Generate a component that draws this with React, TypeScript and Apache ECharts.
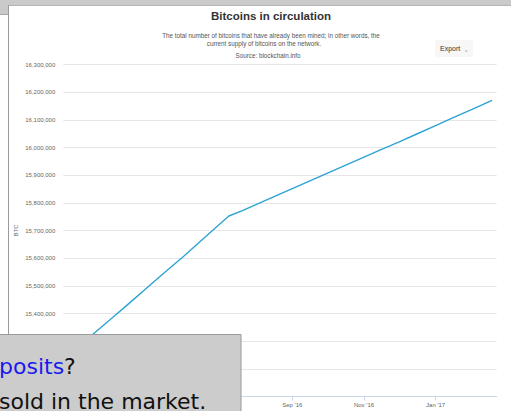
import React, { useEffect, useRef } from "react";
import * as echarts from "echarts";

// Data (daily supply snapshots)
const dates = [
  "2016-02-19", "2016-03-01", "2016-03-15", "2016-04-01", "2016-04-15",
  "2016-05-01", "2016-05-15", "2016-06-01", "2016-06-15", "2016-07-01",
  "2016-07-09", "2016-07-20", "2016-08-01", "2016-08-15", "2016-09-01",
  "2016-09-15", "2016-10-01", "2016-11-01", "2016-11-15", "2016-12-01",
  "2016-12-15", "2017-01-01", "2017-01-15", "2017-02-01", "2017-02-18",
];
const btcInCirculation = [
  15230000, 15271500, 15324200, 15385700, 15436600,
  15495900, 15547600, 15609000, 15661800, 15722300,
  15752500, 15770900, 15793300, 15819700, 15851200,
  15877200, 15907200, 15965300, 15991400, 16020300,
  16047000, 16079200, 16106000, 16138000, 16170600,
];
const tickDates = ["2016-03-01", "2016-05-01", "2016-07-01", "2016-09-01", "2016-11-01", "2017-01-01"];
const tickLabels = ["Mar '16", "May '16", "Jul '16", "Sep '16", "Nov '16", "Jan '17"];
const xMinDate = "2016-02-19";
const xMaxDate = "2017-02-22";
const yMin = 15100000;
const yMax = 16300000;
const yStep = 100000;

const titleText = "Bitcoins in circulation";
const subtitleLines = [
  "The total number of bitcoins that have already been mined; in other words, the",
  "current supply of bitcoins on the network.",
];
const sourceText = "Source: blockchain.info";

const ts = (d: string) => Date.parse(d + "T00:00:00Z");

export default function App() {
  const ref = useRef<HTMLDivElement>(null);
  useEffect(() => {
    if (!ref.current) return;
    const chart = echarts.init(ref.current, undefined, { renderer: "svg" });
    const tickTs = tickDates.map(ts);
    const font = "'Liberation Sans', Arial, Helvetica, sans-serif";
    chart.setOption({
      animation: false,
      backgroundColor: "#ffffff",
      grid: {
        left: 63.3,
        right: 14.3,
        top: 64.5,
        bottom: 14.5,
        containLabel: false,
        outerBoundsMode: "none",
      },
      xAxis: {
        type: "value",
        min: ts(xMinDate),
        max: ts(xMaxDate),
        axisLine: { show: true, lineStyle: { color: "#ccd6eb", width: 1 } },
        axisTick: {
          show: true,
          customValues: tickTs,
          length: 4,
          lineStyle: { color: "#ccd6eb" },
        },
        axisLabel: {
          customValues: tickTs,
          fontSize: 6,
          color: "#666666",
          fontFamily: font,
          margin: 5,
          formatter: (v: number) => {
            const i = tickTs.indexOf(v);
            return i >= 0 ? tickLabels[i] : "";
          },
        },
        splitLine: { show: false },
      },
      yAxis: {
        type: "value",
        min: yMin,
        max: yMax,
        interval: yStep,
        name: "BTC",
        nameLocation: "middle",
        nameGap: 44,
        nameRotate: 90,
        nameMoveOverlap: false,
        nameTextStyle: { fontSize: 6, color: "#666666", fontFamily: font },
        axisLine: { show: false },
        axisTick: { show: false },
        axisLabel: {
          fontSize: 6,
          color: "#666666",
          fontFamily: font,
          margin: 8,
          formatter: (v: number) => v.toLocaleString("en-US"),
        },
        splitLine: { show: true, lineStyle: { color: "#e6e6e6", width: 1 } },
      },
      series: [
        {
          type: "line",
          data: dates.map((d, i) => [ts(d), btcInCirculation[i]]),
          showSymbol: false,
          symbol: "none",
          lineStyle: { color: "#2ea3d3", width: 1.4 },
        },
      ],
      graphic: [
        // Window frame
        { type: "rect", shape: { x: 0, y: 0, width: 511, height: 5 }, style: { fill: "#cacaca" }, z: 50 },
        { type: "line", shape: { x1: 8, y1: 5.5, x2: 511, y2: 5.5 }, style: { stroke: "#b4b4b4", lineWidth: 1 }, z: 51 },
        { type: "rect", shape: { x: 0, y: 0, width: 8, height: 14 }, style: { fill: "#cacaca" }, z: 50 },
        { type: "line", shape: { x1: 0, y1: 14.5, x2: 8, y2: 14.5 }, style: { stroke: "#a8a8a8", lineWidth: 1 }, z: 51 },
        { type: "line", shape: { x1: 8.5, y1: 5, x2: 8.5, y2: 411 }, style: { stroke: "#9a9a9a", lineWidth: 1 }, z: 51 },
        // Titles
        {
          type: "text", x: 271, y: 15.8, z: 20,
          style: { text: titleText, fill: "#333333", font: `bold 11.5px ${font}`, textAlign: "center", textVerticalAlign: "middle" },
        },
        {
          type: "text", x: 271, y: 35, z: 20,
          style: { text: subtitleLines[0], fill: "#555555", font: `6.3px ${font}`, textAlign: "center", textVerticalAlign: "middle" },
        },
        {
          type: "text", x: 264, y: 43.5, z: 20,
          style: { text: subtitleLines[1], fill: "#555555", font: `6.3px ${font}`, textAlign: "center", textVerticalAlign: "middle" },
        },
        {
          type: "text", x: 268, y: 55.7, z: 20,
          style: { text: sourceText, fill: "#555555", font: `6.3px ${font}`, textAlign: "center", textVerticalAlign: "middle" },
        },
        // Export button
        { type: "rect", shape: { x: 435, y: 40, width: 38, height: 17, r: 2 }, style: { fill: "#f7f7f7" }, z: 20 },
        {
          type: "text", x: 440, y: 48.5, z: 21,
          style: { text: "Export", fill: "#333333", font: `7px ${font}`, textAlign: "left", textVerticalAlign: "middle" },
        },
        { type: "line", shape: { x1: 465, y1: 51, x2: 467.5, y2: 51 }, style: { stroke: "#aaaaaa", lineWidth: 1 }, z: 21 },
        // Overlay box
        {
          type: "rect", shape: { x: -2, y: 334.5, width: 243, height: 80 },
          style: { fill: "#cccccc", stroke: "#9a9a9a", lineWidth: 1 }, z: 100,
        },
        {
          type: "text", x: -1, y: 366.6, z: 101,
          style: {
            text: "{b|posits}{k|?}",
            textVerticalAlign: "middle",
            rich: {
              b: { fill: "#1a1aee", font: "22px 'DejaVu Sans', sans-serif" },
              k: { fill: "#111111", font: "22px 'DejaVu Sans', sans-serif" },
            },
          },
        },
        {
          type: "text", x: -1, y: 401.2, z: 101,
          style: {
            text: "sold in the market.",
            fill: "#111111",
            font: "22px 'DejaVu Sans', sans-serif",
            textVerticalAlign: "middle",
          },
        },
      ],
    });
    return () => chart.dispose();
  }, []);
  return <div ref={ref} style={{ position: "absolute", left: 0, top: 0, width: 511, height: 411 }} />;
}
